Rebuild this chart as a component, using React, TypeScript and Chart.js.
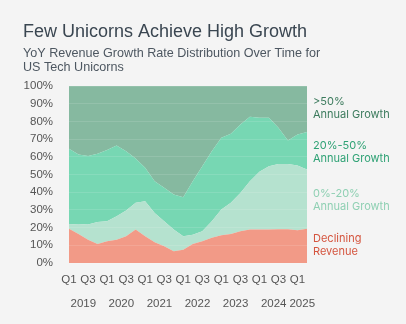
import React, { useEffect, useRef } from "react";
import { Chart, registerables } from "chart.js";

Chart.register(...registerables);

const quarters = [
  "Q1 2019", "Q2 2019", "Q3 2019", "Q4 2019",
  "Q1 2020", "Q2 2020", "Q3 2020", "Q4 2020",
  "Q1 2021", "Q2 2021", "Q3 2021", "Q4 2021",
  "Q1 2022", "Q2 2022", "Q3 2022", "Q4 2022",
  "Q1 2023", "Q2 2023", "Q3 2023", "Q4 2023",
  "Q1 2024", "Q2 2024", "Q3 2024", "Q4 2024",
  "Q1 2025", "Q2 2025",
];
const years = ["2019", "2020", "2021", "2022", "2023", "2024", "2025"];
const yearCenters = [1.5, 5.5, 9.5, 13.5, 17.5, 21.5, 24.5];

const declining = [19.4, 16.4, 13.2, 10.8, 12.3, 13.2, 15.1, 18.9, 15.1, 11.7, 9.4, 6.6, 7.5, 10.8, 12.3, 14.2, 15.7, 16.4, 17.9, 18.9, 18.9, 18.9, 19.0, 19.0, 18.5, 19.4];
const growth0to20 = [2.3, 5.7, 8.5, 12.4, 11.3, 13.2, 14.5, 15.1, 19.8, 16.6, 14.2, 12.3, 7.6, 5.2, 5.6, 9.4, 14.5, 17.6, 21.7, 27.3, 32.6, 35.8, 37.0, 37.0, 36.6, 33.4];
const growth20to50 = [42.8, 39.2, 38.7, 38.5, 40.2, 40.0, 33.6, 25.1, 18.9, 17.9, 18.9, 19.8, 22.1, 30.2, 36.8, 39.6, 40.6, 39.0, 38.7, 36.4, 30.5, 27.3, 20.4, 13.2, 17.5, 21.2];
const growthOver50 = [35.5, 38.7, 39.6, 38.3, 36.2, 33.6, 36.8, 40.9, 46.2, 53.8, 57.5, 61.3, 62.8, 53.8, 45.3, 36.8, 29.2, 27.0, 21.7, 17.4, 18.0, 18.0, 23.6, 30.8, 27.4, 26.0];

const titleText = "Few Unicorns Achieve High Growth";
const subtitleLines = ["YoY Revenue Growth Rate Distribution Over Time for", "US Tech Unicorns"];

const seriesLabels = [
  { lines: [">50%", "Annual Growth"], color: "#3c7b5d", y: 105 },
  { lines: ["20%-50%", "Annual Growth"], color: "#2fa275", y: 149 },
  { lines: ["0%-20%", "Annual Growth"], color: "#8fd0b3", y: 197 },
  { lines: ["Declining", "Revenue"], color: "#d5553f", y: 242 },
];

const BG = "#f4f4f4";

const textPlugin = {
  id: "textPlugin",
  beforeDraw(chart: any) {
    const ctx = chart.ctx;
    ctx.save();
    ctx.fillStyle = BG;
    ctx.fillRect(0, 0, chart.width, chart.height);
    ctx.restore();
  },
  afterDraw(chart: any) {
    const ctx = chart.ctx;
    ctx.save();
    ctx.textAlign = "left";
    ctx.textBaseline = "alphabetic";
    ctx.fillStyle = "#3a4651";
    ctx.font = "18px 'Liberation Sans', Arial, sans-serif";
    ctx.fillText(titleText, 23, 36.5);
    ctx.fillStyle = "#4d5761";
    ctx.font = "12.6px 'Liberation Sans', Arial, sans-serif";
    subtitleLines.forEach((l, i) => ctx.fillText(l, 23, 56.5 + i * 14.5));
    ctx.font = "11px Inter, 'Noto Sans', sans-serif";
    const x = chart.chartArea.right + 6;
    seriesLabels.forEach((s) => {
      ctx.fillStyle = s.color;
      s.lines.forEach((l, i) => ctx.fillText(l, x, s.y + i * 13));
    });
    ctx.restore();
  },
};

export default function App() {
  const ref = useRef<HTMLCanvasElement>(null);
  useEffect(() => {
    if (!ref.current) return;
    const mk = (label: string, data: number[], color: string, fill: any) => ({
      label,
      data,
      backgroundColor: color,
      borderColor: color,
      borderWidth: 0,
      pointRadius: 0,
      tension: 0,
      fill,
    });
    const chart = new Chart(ref.current, {
      type: "line",
      data: {
        labels: quarters,
        datasets: [
          mk("Declining Revenue", declining, "#f29a87", "origin"),
          mk("0%-20% Annual Growth", growth0to20, "#b5e2cf", "-1"),
          mk("20%-50% Annual Growth", growth20to50, "#77d7b3", "-1"),
          mk(">50% Annual Growth", growthOver50, "#86b9a0", "-1"),
        ],
      },
      options: {
        animation: false,
        responsive: false,
        maintainAspectRatio: false,
        layout: { padding: { left: 0, right: 99, top: 86, bottom: 15 } },
        plugins: {
          legend: { display: false },
          tooltip: { enabled: false },
          title: { display: false },
        },
        scales: {
          x: {
            type: "category",
            offset: false,
            grid: { display: false, drawTicks: false },
            border: { display: false },
            ticks: {
              autoSkip: false,
              maxRotation: 0,
              padding: 10,
              color: "#555555",
              font: { family: "'Liberation Sans', Arial, sans-serif", size: 11.5 },
              callback: function (this: any, value: any, index: number) {
                return index % 2 === 0 ? this.getLabelForValue(value).split(" ")[0] : "";
              },
            },
            afterFit: (s: any) => { s.height = 22; },
          },
          x2: {
            type: "linear",
            position: "bottom",
            weight: 1,
            min: 0,
            max: quarters.length - 1,
            grid: { display: false, drawTicks: false },
            border: { display: false },
            afterBuildTicks: (s: any) => { s.ticks = yearCenters.map((v) => ({ value: v })); },
            ticks: {
              autoSkip: false,
              maxRotation: 0,
              padding: 12,
              color: "#555555",
              font: { family: "'Liberation Sans', Arial, sans-serif", size: 11.5 },
              callback: (_v: any, i: number) => years[i],
            },
            afterFit: (s: any) => { s.height = 24; },
          },
          y: {
            stacked: true,
            min: 0,
            max: 100,
            grid: { color: "rgba(255,255,255,0.12)", drawTicks: false, z: 1 },
            border: { display: false },
            ticks: {
              stepSize: 10,
              padding: 16,
              color: "#555555",
              font: { family: "'Liberation Sans', Arial, sans-serif", size: 11.5 },
              callback: (v: any) => v + "%",
            },
            afterFit: (s: any) => { s.width = 69; },
          },
        },
      },
      plugins: [textPlugin],
    });
    return () => chart.destroy();
  }, []);
  return (
    <div style={{ position: "fixed", left: 0, top: 0, width: 406, height: 324, background: BG }}>
      <canvas ref={ref} width={406} height={324} style={{ display: "block" }} />
    </div>
  );
}
